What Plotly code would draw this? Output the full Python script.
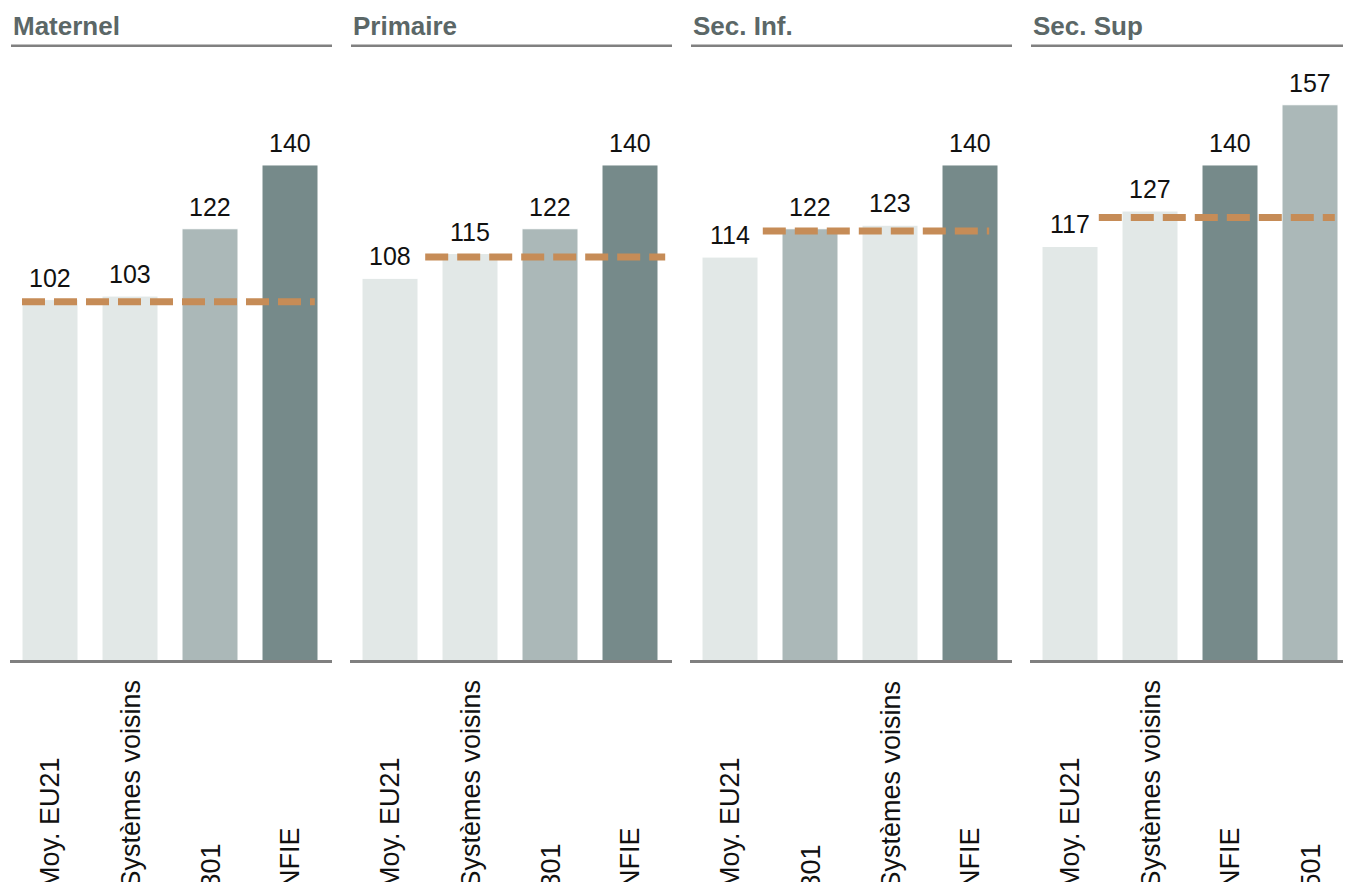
import plotly.graph_objects as go

# The page body has an 8px default margin, so page pixel (X, Y) maps to figure pixel (X-8, Y-8)
OFF = 8
W, H = 1351 - OFF, 882 - OFF

# ---- data ----
panels = ["Maternel", "Primaire", "Sec. Inf.", "Sec. Sup"]
maternel_labels = ["Moy. EU21", "Systèmes voisins", "301", "NFIE"]
maternel_values = [102, 103, 122, 140]
primaire_labels = ["Moy. EU21", "Systèmes voisins", "301", "NFIE"]
primaire_values = [108, 115, 122, 140]
sec_inf_labels = ["Moy. EU21", "301", "Systèmes voisins", "NFIE"]
sec_inf_values = [114, 122, 123, 140]
sec_sup_labels = ["Moy. EU21", "Systèmes voisins", "NFIE", "501"]
sec_sup_values = [117, 127, 140, 157]
ref_values = [101.4, 114.0, 121.4, 125.2]

all_labels = [maternel_labels, primaire_labels, sec_inf_labels, sec_sup_labels]
all_values = [maternel_values, primaire_values, sec_inf_values, sec_sup_values]

# ---- style ----
LIGHT, MED, DARK = "#e2e8e7", "#abb8b8", "#768a8a"
color_map = {"Moy. EU21": LIGHT, "Systèmes voisins": LIGHT, "301": MED, "501": MED, "NFIE": DARK}
ref_start = [-0.35, 0.44, 0.41, 0.36]
ref_end = [3.31, 3.44, 3.24, 3.31]
FONT = "Liberation Sans, Arial, Helvetica, sans-serif"
YMAX = 601 / 3.543


def px(x):
    return (x - OFF) / W


def py(y):
    return 1 - (y - OFF) / H


fig = go.Figure()
shapes = []
annotations = []

for i, (name, labels, values) in enumerate(zip(panels, all_labels, all_values)):
    n = i + 1
    xa = "x" if n == 1 else f"x{n}"
    ya = "y" if n == 1 else f"y{n}"
    cats = list(range(len(labels)))
    fig.add_trace(go.Bar(
        x=cats, y=values, xaxis=xa, yaxis=ya, width=0.7,
        marker=dict(color=[color_map[l] for l in labels], line=dict(color="white", width=1)),
        cliponaxis=False, showlegend=False, hoverinfo="skip",
    ))
    left = 10 + 340 * i
    fig.layout[f"xaxis{'' if n == 1 else n}"] = dict(
        domain=[px(left), px(left + 320)], range=[-0.5, 3.5], visible=False,
        anchor=ya, fixedrange=True)
    fig.layout[f"yaxis{'' if n == 1 else n}"] = dict(
        domain=[py(661), py(60)], range=[0, YMAX], visible=False,
        anchor=xa, fixedrange=True)

    # value labels
    for c, v in zip(cats, values):
        annotations.append(dict(text=str(v), xref=xa, yref=ya, x=c, y=v,
                                xanchor="center", yanchor="bottom", yshift=6,
                                showarrow=False, font=dict(family=FONT, size=25, color="#111111")))

    # reference dashed line
    shapes.append(dict(type="line", xref=xa, yref=ya,
                       x0=ref_start[i], x1=ref_end[i], y0=ref_values[i], y1=ref_values[i],
                       line=dict(color="#c68c57", width=7, dash="23px,9px"), layer="above"))
    # baseline
    shapes.append(dict(type="line", xref="paper", yref="paper",
                       x0=px(left), x1=px(min(left + 322, 1350)), y0=py(661.5), y1=py(661.5),
                       line=dict(color="#808080", width=3)))
    # title underline
    shapes.append(dict(type="line", xref="paper", yref="paper",
                       x0=px(left + 1), x1=px(min(left + 322, 1350)), y0=py(45.7), y1=py(45.7),
                       line=dict(color="#808080", width=2.5)))
    # title
    annotations.append(dict(text=f"<b>{name}</b>", xref="paper", yref="paper",
                            x=px(left + 1), y=py(26), xanchor="left", yanchor="middle",
                            showarrow=False, font=dict(family=FONT, size=26, color="#5b6767")))
    # category labels (rotated, bottom aligned, running past the bottom edge as in the reference)
    for c, lab in zip(cats, labels):
        annotations.append(dict(text=lab, xref=xa, yref="paper", x=c, y=py(891),
                                xanchor="center", yanchor="bottom", textangle=-90,
                                showarrow=False, font=dict(family=FONT, size=27, color="#111111")))

fig.update_layout(
    width=W, height=H, margin=dict(l=0, r=0, t=0, b=0),
    paper_bgcolor="white", plot_bgcolor="white",
    shapes=shapes, annotations=annotations, bargap=0.3,
)

fig.write_html("out.html")
